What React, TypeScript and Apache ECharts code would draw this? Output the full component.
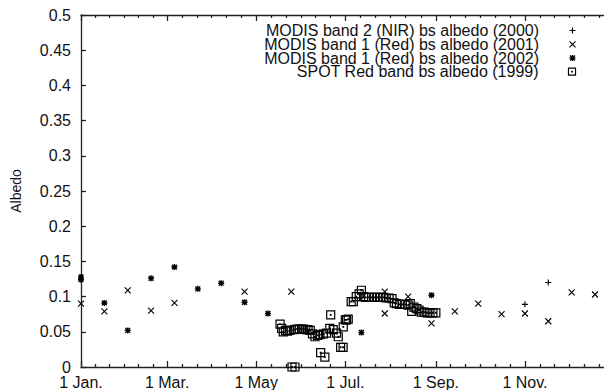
import React, { useEffect, useRef } from "react";
import * as echarts from "echarts";

// x axis: day of year (1 Jan = 0)
const monthTickDays = [0, 59, 120, 181, 243, 304, 365];
const monthTickLabels = ["1 Jan.", "1 Mar.", "1 May", "1 Jul.", "1 Sep.", "1 Nov.", ""];
const minorPerMonthTick = 6;

const seriesNames = [
  "MODIS band 2 (NIR) bs albedo (2000)",
  "MODIS band 1 (Red) bs albedo (2001)",
  "MODIS band 1 (Red) bs albedo (2002)",
  "SPOT Red band bs albedo (1999)",
];

const nir2000Days = [304, 320];
const nir2000Albedo = [0.089, 0.12];

const red2001Days = [0, 16, 32, 48, 64, 112, 144, 208, 208, 224, 240, 256, 272, 288, 304, 320, 336, 352];
const red2001Albedo = [0.09, 0.079, 0.109, 0.08, 0.091, 0.107, 0.107, 0.107, 0.076, 0.1, 0.062, 0.079, 0.09, 0.075, 0.076, 0.065, 0.106, 0.103];

const red2002Days = [0, 0, 16, 32, 48, 64, 80, 96, 112, 128, 192, 240];
const red2002Albedo = [0.128, 0.124, 0.091, 0.052, 0.126, 0.142, 0.111, 0.119, 0.092, 0.076, 0.049, 0.102];

const spot1999Days = [
  136.3, 137.4, 138.5, 140, 141.5, 143, 144.5, 146.5, 146, 148, 149.5, 151, 152.5, 154, 155.5, 157,
  158.5, 160.2, 162, 163.6, 164.1, 167, 166, 168.2, 170.4, 171, 172.7, 175, 176.2, 177.8, 179.5,
  179.6, 181, 181.9, 183, 185, 186.5, 188.5, 190.5, 192, 193.5, 195, 197, 199, 201, 203, 205, 207,
  209, 211, 213, 214.5, 216, 218, 220, 222, 224, 225.5, 226.5, 228, 230, 231.5, 233, 235, 237, 239,
  241, 243,
];
const spot1999Albedo = [
  0.061, 0.055, 0.05, 0.052, 0.051, 0.052, 0.0, 0.0, 0.053, 0.054, 0.054, 0.054, 0.054, 0.053, 0.053, 0.052,
  0.047, 0.043, 0.045, 0.046, 0.0205, 0.014, 0.047, 0.048, 0.055, 0.074, 0.053, 0.048, 0.043, 0.028, 0.028,
  0.057, 0.067, 0.067, 0.068, 0.093, 0.093, 0.1, 0.104, 0.109, 0.1, 0.099, 0.099, 0.099, 0.099, 0.099, 0.099, 0.099,
  0.098, 0.098, 0.097, 0.091, 0.09, 0.089, 0.089, 0.089, 0.088, 0.09, 0.079, 0.085, 0.083, 0.081, 0.078, 0.078, 0.077, 0.077,
  0.077, 0.077,
];

const zip = (xs: number[], ys: number[]) => xs.map((x, i) => [x, ys[i]]);

const FONT = "'Liberation Sans', Arial, Helvetica, sans-serif";
const INK = "#111";

const SYM_PLUS = "path://M5 0 L5 10 M0 5 L10 5";
const SYM_CROSS = "path://M0 0 L10 10 M10 0 L0 10";
const SYM_STAR = "path://M5 0 L5 10 M0 5 L10 5 M1 1 L9 9 M9 1 L1 9";
const SYM_BOX = "path://M0 0 L10 0 L10 10 L0 10 Z M4.6 4.6 L5.4 4.6 L5.4 5.4 L4.6 5.4 Z";

export default function App() {
  const ref = useRef<HTMLDivElement>(null);

  useEffect(() => {
    if (!ref.current) return;
    const chart = echarts.init(ref.current, undefined, { renderer: "svg" });

    const minorTicks: number[] = [];
    for (let i = 0; i < monthTickDays.length - 1; i++) {
      const a = monthTickDays[i];
      const b = monthTickDays[i + 1];
      for (let k = 1; k < minorPerMonthTick; k++) minorTicks.push(a + ((b - a) * k) / minorPerMonthTick);
    }
    const majorLabelDays = monthTickDays.slice(0, monthTickDays.length - 1);

    const lineStyle = { color: "#222", width: 1.3 };
    const xBase = {
      type: "value",
      min: 0,
      max: 365,
      gridIndex: 0,
      splitLine: { show: false },
      axisLine: { show: false, onZero: false, lineStyle },
    };

    const xAxis = [
      {
        ...xBase,
        position: "bottom",
        axisLine: { show: true, onZero: false, lineStyle },
        axisTick: { show: true, inside: true, length: 6, customValues: monthTickDays, lineStyle },
        axisLabel: {
          show: true,
          customValues: majorLabelDays,
          formatter: (v: number) => {
            const i = monthTickDays.indexOf(v);
            return i >= 0 ? monthTickLabels[i] : "";
          },
          margin: 7,
          fontSize: 16,
          fontFamily: FONT,
          color: INK,
        },
      },
      {
        ...xBase,
        position: "bottom",
        axisTick: { show: true, inside: true, length: 3, customValues: minorTicks, lineStyle },
        axisLabel: { show: false },
      },
      {
        ...xBase,
        position: "top",
        axisLine: { show: true, onZero: false, lineStyle },
        axisTick: { show: true, inside: true, length: 6, customValues: monthTickDays, lineStyle },
        axisLabel: { show: false },
      },
      {
        ...xBase,
        position: "top",
        axisTick: { show: true, inside: true, length: 3, customValues: minorTicks, lineStyle },
        axisLabel: { show: false },
      },
    ];

    const seriesDefs = [
      { name: seriesNames[0], data: zip(nir2000Days, nir2000Albedo), symbol: SYM_PLUS, size: 6, bw: 1.1 },
      { name: seriesNames[1], data: zip(red2001Days, red2001Albedo), symbol: SYM_CROSS, size: 6, bw: 1.1 },
      { name: seriesNames[2], data: zip(red2002Days, red2002Albedo), symbol: SYM_STAR, size: 6, bw: 1.4 },
      { name: seriesNames[3], data: zip(spot1999Days, spot1999Albedo), symbol: SYM_BOX, size: 8, bw: 1.2 },
    ];

    const legendRows = [29, 42.8, 56.5, 70.2];

    chart.setOption({
      animation: false,
      backgroundColor: "#fff",
      textStyle: { fontFamily: FONT },
      grid: {
        left: 81,
        right: -10,
        top: 15,
        bottom: 23,
        containLabel: false,
        outerBoundsMode: "none",
      },
      xAxis,
      yAxis: {
        type: "value",
        min: 0,
        max: 0.5,
        interval: 0.05,
        position: "left",
        splitLine: { show: false },
        axisLine: { show: true, onZero: false, lineStyle },
        axisTick: { show: true, inside: true, length: 5, lineStyle },
        axisLabel: { margin: 10, fontSize: 16, fontFamily: FONT, color: INK },
        name: "Albedo",
        nameLocation: "middle",
        nameGap: 58,
        nameTextStyle: { fontSize: 14, fontFamily: FONT, color: INK },
      },
      legend: seriesDefs.map((s, i) => ({
        data: [s.name],
        orient: "vertical",
        align: "right",
        right: 26,
        top: legendRows[i] - 6.5,
        padding: 0,
        itemWidth: 57,
        itemHeight: Math.min(s.size, 7),
        itemGap: 0,
        selectedMode: false,
        textStyle: { fontSize: 16, lineHeight: 13, fontFamily: FONT, color: INK },
        itemStyle: { color: "none", borderColor: "#000", borderWidth: s.bw },
      })),
      series: seriesDefs.map((s) => ({
        type: "scatter",
        name: s.name,
        xAxisIndex: 0,
        yAxisIndex: 0,
        data: s.data,
        symbol: s.symbol,
        symbolSize: s.size,
        symbolKeepAspect: true,
        itemStyle: { color: "none", borderColor: "#000", borderWidth: s.bw, opacity: 1 },
        emphasis: { disabled: true },
      })),
    });

    return () => chart.dispose();
  }, []);

  return (
    <div
      ref={ref}
      style={{ position: "absolute", left: 0, top: 0, width: 604, height: 390 }}
    />
  );
}
